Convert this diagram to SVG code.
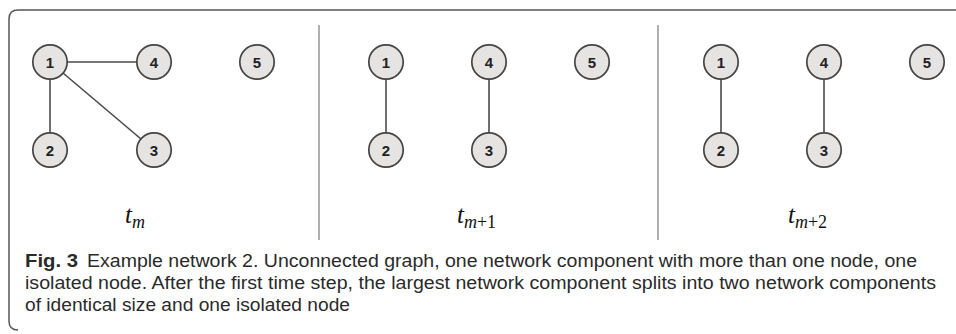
<svg xmlns="http://www.w3.org/2000/svg" width="956" height="334" viewBox="0 0 956 334">
<style>
.frame{fill:none;stroke:#555;stroke-width:1.5}
.div{stroke:#b0b0b0;stroke-width:2}
.edge{stroke:#4a4a4a;stroke-width:1.6;fill:none}
.node circle{fill:#e6e3e3;stroke:#444;stroke-width:1.7}
.node text{font-family:"Liberation Sans",Arial,sans-serif;font-weight:bold;font-size:15px;fill:#222;text-anchor:middle}
.t{font-family:"Liberation Serif","Times New Roman",serif;font-size:25px;fill:#111}
.cap{font-family:"Liberation Sans",Arial,sans-serif;font-size:17.5px;fill:#2a2a2a}
</style>
<rect width="956" height="334" fill="#fff"/>
<path class="frame" d="M956 10 H18 Q9 10 9 19 V321 Q9 330 18 330"/>
<line class="div" x1="319" y1="25" x2="319" y2="240"/>
<line class="div" x1="658" y1="25" x2="658" y2="240"/>
<g id="connectors">
<line class="edge" x1="50" y1="62" x2="154" y2="62"/>
<line class="edge" x1="50" y1="62" x2="50" y2="150"/>
<line class="edge" x1="50" y1="62" x2="154" y2="150"/>
<line class="edge" x1="386" y1="62" x2="386" y2="150"/>
<line class="edge" x1="489" y1="62" x2="489" y2="150"/>
<line class="edge" x1="721" y1="62" x2="721" y2="150"/>
<line class="edge" x1="824" y1="62" x2="824" y2="150"/>
</g>
<g id="a1" class="node"><circle cx="50" cy="62" r="17.2"/><text x="50" y="67.5">1</text></g>
<g id="a4" class="node"><circle cx="154" cy="62" r="17.2"/><text x="154" y="67.5">4</text></g>
<g id="a5" class="node"><circle cx="257" cy="62" r="17.2"/><text x="257" y="67.5">5</text></g>
<g id="a2" class="node"><circle cx="50" cy="150" r="17.2"/><text x="50" y="155.5">2</text></g>
<g id="a3" class="node"><circle cx="154" cy="150" r="17.2"/><text x="154" y="155.5">3</text></g>
<g id="b1" class="node"><circle cx="386" cy="62" r="17.2"/><text x="386" y="67.5">1</text></g>
<g id="b4" class="node"><circle cx="489" cy="62" r="17.2"/><text x="489" y="67.5">4</text></g>
<g id="b5" class="node"><circle cx="592" cy="62" r="17.2"/><text x="592" y="67.5">5</text></g>
<g id="b2" class="node"><circle cx="386" cy="150" r="17.2"/><text x="386" y="155.5">2</text></g>
<g id="b3" class="node"><circle cx="489" cy="150" r="17.2"/><text x="489" y="155.5">3</text></g>
<g id="c1" class="node"><circle cx="721" cy="62" r="17.2"/><text x="721" y="67.5">1</text></g>
<g id="c4" class="node"><circle cx="824" cy="62" r="17.2"/><text x="824" y="67.5">4</text></g>
<g id="c5" class="node"><circle cx="927" cy="62" r="17.2"/><text x="927" y="67.5">5</text></g>
<g id="c2" class="node"><circle cx="721" cy="150" r="17.2"/><text x="721" y="155.5">2</text></g>
<g id="c3" class="node"><circle cx="824" cy="150" r="17.2"/><text x="824" y="155.5">3</text></g>
<text class="t" x="125" y="223"><tspan font-style="italic">t</tspan><tspan font-size="18" font-style="italic" dy="5">m</tspan></text>
<text class="t" x="457" y="223"><tspan font-style="italic">t</tspan><tspan font-size="18" font-style="italic" dy="5">m</tspan><tspan font-size="18">+1</tspan></text>
<text class="t" x="788" y="223"><tspan font-style="italic">t</tspan><tspan font-size="18" font-style="italic" dy="5">m</tspan><tspan font-size="18">+2</tspan></text>
<text class="cap" x="25" y="267" font-weight="bold" textLength="53" lengthAdjust="spacingAndGlyphs">Fig. 3</text>
<text class="cap" x="87" y="267" textLength="830" lengthAdjust="spacingAndGlyphs">Example network 2. Unconnected graph, one network component with more than one node, one</text>
<text class="cap" x="25" y="289" textLength="911" lengthAdjust="spacingAndGlyphs">isolated node. After the first time step, the largest network component splits into two network components</text>
<text class="cap" x="25" y="311" textLength="325" lengthAdjust="spacingAndGlyphs">of identical size and one isolated node</text>
</svg>
